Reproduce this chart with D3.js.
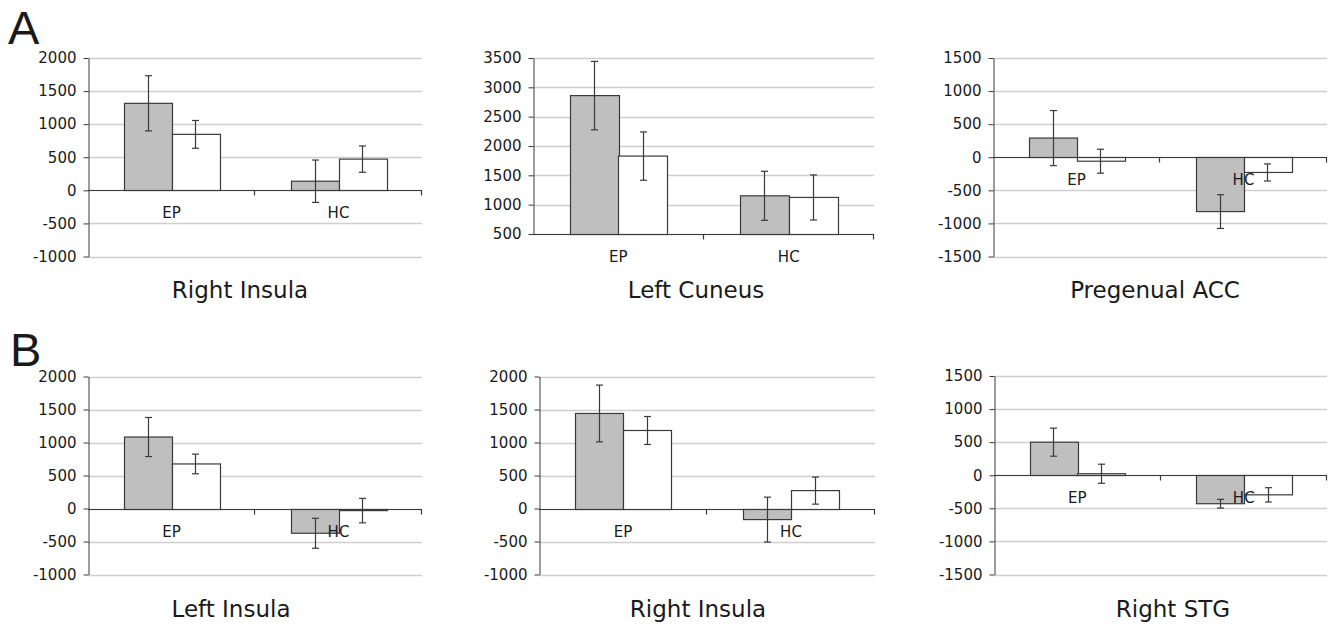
<!DOCTYPE html>
<html>
<head>
<meta charset="utf-8">
<script src="https://cdn.jsdelivr.net/npm/d3@7"></script>
<style>
  body { margin: 0; background: #fff; }
  svg { display: block; }
  text { fill: #1a1a1a; }
</style>
</head>
<body>
<svg></svg>
<script>
// Six small bar charts, two groups each, two series (gray / white) with error bars
const SVG_WIDTH = 1337;
const SVG_HEIGHT = 627;

// Data
const panelTitles = ['Right Insula', 'Left Cuneus', 'Pregenual ACC', 'Left Insula', 'Right Insula', 'Right STG'];
const groups = ['EP', 'HC'];
const series = ['gray', 'white'];
const grayMeans = [[1315, 138], [2859, 1151], [290, -821], [1083, -375], [1440, -168], [500, -430]];
const grayErrors = [[417, 320], [583, 418], [416, 255], [296, 227], [430, 340], [212, 66]];
const whiteMeans = [[846, 472], [1828, 1123], [-60, -230], [675, -32], [1182, 271], [23, -296]];
const whiteErrors = [[210, 199], [412, 384], [181, 129], [149, 185], [212, 205], [144, 108]];
const yDomains = [[-1000, 2000], [500, 3500], [-1500, 1500], [-1000, 2000], [-1000, 2000], [-1500, 1500]];
const panelLetters = ['A', 'B'];

// Layout of each panel's plot area (pixels)
const layout = [
  {x0: 88, x1: 422, y0: 58, y1: 256.5, titleX: 240, titleY: 298},
  {x0: 533, x1: 874, y0: 58, y1: 234, titleX: 696, titleY: 298},
  {x0: 993, x1: 1327, y0: 58, y1: 256.5, titleX: 1155, titleY: 298},
  {x0: 88, x1: 422, y0: 376.5, y1: 574.5, titleX: 231, titleY: 617},
  {x0: 539, x1: 875, y0: 376.5, y1: 574.5, titleX: 698, titleY: 617},
  {x0: 994, x1: 1327, y0: 376, y1: 574.5, titleX: 1173, titleY: 617}
];
const letterPos = [{x: 8, y: 44}, {x: 10, y: 366}];

const FILL = {gray: '#bfbfbf', white: '#ffffff'};
const DARK = '#3a3a3a';
const GRID = '#cfcfcf';
const FONT = '"DejaVu Sans", Verdana, sans-serif';

const SVG = d3.select('svg').attr('width', SVG_WIDTH).attr('height', SVG_HEIGHT);

panelTitles.forEach((title, i) => {
  const L = layout[i];
  const g = SVG.append('g');

  const yScale = d3.scaleLinear().domain(yDomains[i]).range([L.y1, L.y0]);
  const ticks = d3.range(yDomains[i][0], yDomains[i][1] + 1, 500);
  const xScale = d3.scaleBand().domain(groups).range([L.x0, L.x1])
                   .paddingInner(0.4286).paddingOuter(0.2143);
  const sScale = d3.scaleBand().domain(series).range([0, xScale.bandwidth()]);
  const step = xScale.step();
  const crossing = Math.max(0, yDomains[i][0]);
  const yBase = Math.round(yScale(crossing)) + 0.5;

  // gridlines
  g.selectAll('line.grid').data(ticks).enter().append('line')
    .attr('x1', L.x0).attr('x2', L.x1)
    .attr('y1', d => Math.round(yScale(d)) + 0.5)
    .attr('y2', d => Math.round(yScale(d)) + 0.5)
    .attr('stroke', GRID).attr('stroke-width', 1.3);

  // y axis
  const yAxis = d3.axisLeft(yScale).tickValues(ticks).tickFormat(d => String(d))
                  .tickSize(5).tickSizeOuter(0).tickPadding(7);
  const ya = g.append('g').attr('transform', `translate(${Math.round(L.x0) + 0.5},0)`).call(yAxis);
  ya.select('.domain').attr('stroke', DARK);
  ya.selectAll('.tick line').attr('stroke', DARK);
  ya.selectAll('.tick text').style('font-family', FONT).style('font-size', '15px').attr('fill', '#1a1a1a');

  // bars
  const rows = [];
  groups.forEach((grp, j) => {
    rows.push({grp, s: 'gray', v: grayMeans[i][j], e: grayErrors[i][j]});
    rows.push({grp, s: 'white', v: whiteMeans[i][j], e: whiteErrors[i][j]});
  });

  g.selectAll('rect.bar').data(rows).enter().append('rect')
    .attr('x', d => Math.round(xScale(d.grp) + sScale(d.s)) + 0.5)
    .attr('width', Math.round(sScale.bandwidth()))
    .attr('y', d => Math.min(yScale(d.v), yBase))
    .attr('height', d => Math.abs(yScale(d.v) - yBase))
    .attr('fill', d => FILL[d.s])
    .attr('stroke', DARK).attr('stroke-width', 1.2);

  // category axis line
  g.append('line').attr('x1', L.x0).attr('x2', L.x1).attr('y1', yBase).attr('y2', yBase)
    .attr('stroke', DARK).attr('stroke-width', 1.2);
  g.selectAll('line.ctick').data([1, 2]).enter().append('line')
    .attr('x1', k => Math.round(L.x0 + k * step) - 0.5).attr('x2', k => Math.round(L.x0 + k * step) - 0.5)
    .attr('y1', yBase).attr('y2', yBase + 5)
    .attr('stroke', DARK).attr('stroke-width', 1.2);

  // error bars
  const eb = g.selectAll('g.err').data(rows).enter().append('g')
    .attr('stroke', DARK).attr('stroke-width', 1.2);
  const cx = d => Math.round(xScale(d.grp) + sScale(d.s) + sScale.bandwidth() / 2) + 0.5;
  eb.append('line').attr('x1', cx).attr('x2', cx)
    .attr('y1', d => yScale(d.v + d.e)).attr('y2', d => yScale(d.v - d.e));
  eb.append('line').attr('x1', d => cx(d) - 3.5).attr('x2', d => cx(d) + 3.5)
    .attr('y1', d => yScale(d.v + d.e)).attr('y2', d => yScale(d.v + d.e));
  eb.append('line').attr('x1', d => cx(d) - 3.5).attr('x2', d => cx(d) + 3.5)
    .attr('y1', d => yScale(d.v - d.e)).attr('y2', d => yScale(d.v - d.e));

  // category labels
  g.selectAll('text.cat').data(groups).enter().append('text')
    .attr('x', d => xScale(d) + xScale.bandwidth() / 2)
    .attr('y', yBase + 27)
    .attr('text-anchor', 'middle')
    .style('font-family', FONT).style('font-size', '15px')
    .text(d => d);

  // title
  g.append('text').attr('x', L.titleX).attr('y', L.titleY)
    .attr('text-anchor', 'middle')
    .style('font-family', FONT).style('font-size', '23px')
    .text(title);
});

SVG.selectAll('text.letter').data(panelLetters).enter().append('text')
  .attr('x', (d, k) => letterPos[k].x).attr('y', (d, k) => letterPos[k].y)
  .style('font-family', '"Liberation Sans", Arial, sans-serif').style('font-size', '47px')
  .attr('fill', '#000')
  .text(d => d);
</script>
</body>
</html>
